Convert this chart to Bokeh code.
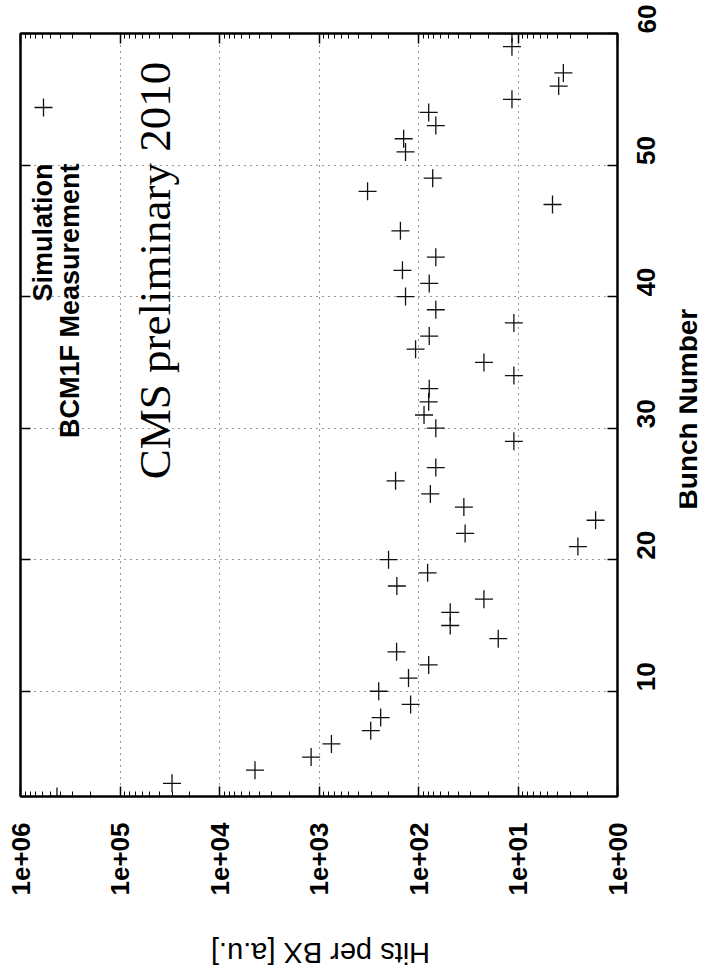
from math import pi
from bokeh.plotting import figure
from bokeh.layouts import row, column
from bokeh.models import Range1d, FixedTicker, LogAxis, LinearAxis, Label, CustomJSTickFormatter
from bokeh.embed import file_html
from bokeh.resources import INLINE

# ---------------- data ----------------
bunch = [2, 3, 4, 5, 6, 7, 8, 9, 10, 11, 12, 13, 14, 15, 16, 17, 18, 19, 20, 21,
         22, 23, 24, 25, 26, 27, 29, 30, 31, 32, 33, 34, 35, 36, 37, 38, 39, 40,
         41, 42, 43, 45, 47, 48, 49, 51, 52, 53, 54, 55, 56, 57, 59, 60]
hits = [4.3e5, 3.0e4, 4.4e3, 1.2e3, 750, 302, 240, 120, 251, 126, 79, 166, 15.8,
        48, 48, 22, 165, 81, 200, 2.5, 34, 1.66, 35, 76, 170, 67, 11, 67, 88, 79,
        78, 11, 22, 107, 78, 11, 67, 135, 78, 145, 67, 152, 4.5, 325, 72, 135,
        141, 67, 79, 11.5, 3.9, 3.5, 11.5, 11.5]

hit_ticks = [1e6, 1e5, 1e4, 1e3, 1e2, 1e1, 1e0]
hit_tick_labels = ["1e+06", "1e+05", "1e+04", "1e+03", "1e+02", "1e+01", "1e+00"]
bunch_ticks = [10, 20, 30, 40, 50, 60]

series_names = ["Simulation", "BCM1F Measurement"]
watermark = "CMS preliminary 2010"
x_title = "Bunch Number"
y_title = "Hits per BX [a.u.]"

# ---------------- geometry ----------------
W, H = 703, 978
FL, FR, FT, FB = 20, 617, 33, 796
RB = 62          # right border of main figure (tick labels)
BB = 110         # bottom border of main figure (tick labels)
MAIN_W = FR + RB
MAIN_H = FB + BB
XMAX, XMIN = 1e6, 1.0
YMIN, YMAX = 2, 60


def px2hits(px):
    return 10 ** (6 - (px - FL) / (FR - FL) * 6)


def px2bunch(py):
    return YMIN + (FB - py) / (FB - FT) * (YMAX - YMIN)


p = figure(frame_width=FR - FL, frame_height=FB - FT,
           x_axis_type="log", x_range=Range1d(XMAX, XMIN), y_range=Range1d(YMIN, YMAX),
           x_axis_location="below", y_axis_location="right",
           min_border_left=FL, min_border_right=RB,
           min_border_top=FT, min_border_bottom=BB,
           output_backend="svg", toolbar_location=None,
           background_fill_color="white", border_fill_color="white",
           outline_line_color="black", outline_line_width=2)

minor_hits = [k * 10 ** d for d in range(0, 6) for k in range(2, 10)]
hit_ticker = FixedTicker(ticks=hit_ticks, minor_ticks=minor_hits)
bunch_ticker = FixedTicker(ticks=bunch_ticks)

hit_fmt = CustomJSTickFormatter(args=dict(tvals=hit_ticks, tlabels=hit_tick_labels), code="""
const i = tvals.findIndex(t => Math.abs(Math.log10(t) - Math.log10(tick)) < 1e-6);
return i >= 0 ? tlabels[i] : '';
""")

FONT = "Liberation Sans"


def style_axis(ax, ticker, labels):
    ax.ticker = ticker
    ax.axis_line_color = "black"
    ax.axis_line_width = 2
    ax.major_tick_in = 10
    ax.major_tick_out = 0
    ax.minor_tick_in = 5
    ax.minor_tick_out = 0
    ax.major_tick_line_color = "black"
    ax.major_tick_line_width = 1.5
    ax.minor_tick_line_color = "black"
    ax.minor_tick_line_width = 1
    if labels:
        ax.major_label_text_font = FONT
        ax.major_label_text_font_style = "bold"
        ax.major_label_text_font_size = "26px"
        ax.major_label_text_color = "black"
        ax.major_label_orientation = pi / 2
    else:
        ax.major_label_text_font_size = "2px"
        ax.major_label_text_alpha = 0
        ax.major_label_standoff = 0


xa = p.xaxis[0]
style_axis(xa, hit_ticker, True)
xa.formatter = hit_fmt
xa.major_label_standoff = 26

ya = p.yaxis[0]
style_axis(ya, bunch_ticker, True)
ya.major_label_standoff = 29

top = LogAxis()
style_axis(top, FixedTicker(ticks=hit_ticks, minor_ticks=minor_hits), False)
p.add_layout(top, "above")
left = LinearAxis()
style_axis(left, FixedTicker(ticks=bunch_ticks), False)
p.add_layout(left, "left")

p.xgrid.ticker = FixedTicker(ticks=hit_ticks)
p.ygrid.ticker = FixedTicker(ticks=bunch_ticks)
for g in (p.xgrid, p.ygrid):
    g.grid_line_color = "black"
    g.grid_line_dash = "1 5"
    g.grid_line_width = 1
    g.grid_line_alpha = 0.8

# data
p.scatter(x=hits, y=bunch, marker="cross", size=18, line_color="#111111", line_width=1.3)

# legend (rotated, drawn by hand)
p.scatter(x=[px2hits(43)], y=[px2bunch(107)], marker="cross", size=18,
          line_color="#111111", line_width=1.3)
p.add_layout(Label(x=px2hits(42), y=px2bunch(163), text=series_names[0], angle=pi / 2,
                   text_align="right", text_baseline="alphabetic",
                   text_font=FONT, text_font_style="bold", text_font_size="27px",
                   text_color="black"))
p.add_layout(Label(x=px2hits(69), y=px2bunch(163), text=series_names[1], angle=pi / 2,
                   text_align="right", text_baseline="alphabetic",
                   text_font=FONT, text_font_style="bold", text_font_size="27px",
                   text_color="black"))

# watermark
p.add_layout(Label(x=px2hits(154), y=px2bunch(270), text=watermark, angle=pi / 2,
                   text_align="center", text_baseline="alphabetic",
                   text_font="Liberation Serif", text_font_size="45px",
                   text_color="black"))


def blank(w, h):
    f = figure(width=w, height=h, x_range=Range1d(0, w), y_range=Range1d(0, h),
               x_axis_location=None, y_axis_location=None, min_border=0,
               output_backend="svg", toolbar_location=None,
               background_fill_color="white", border_fill_color="white",
               outline_line_color=None)
    f.grid.visible = False
    return f


# right strip: axis title "Bunch Number" (reads bottom to top)
pr = blank(W - MAIN_W, MAIN_H)
pr.add_layout(Label(x=687 - MAIN_W, y=460, text=x_title, angle=pi / 2,
                    text_align="center", text_baseline="alphabetic",
                    text_font=FONT, text_font_style="bold", text_font_size="28px",
                    text_color="black"))

# bottom strip: axis title "Hits per BX [a.u.]" (upside down)
pb = blank(W, H - MAIN_H)
pb.add_layout(Label(x=320, y=H - 952, text=y_title, angle=pi,
                    text_align="center", text_baseline="alphabetic",
                    text_font=FONT, text_font_size="29px",
                    text_color="black"))

layout = column(row(p, pr, spacing=0), pb, spacing=0)
open("out.html", "w").write(file_html(layout, INLINE))
